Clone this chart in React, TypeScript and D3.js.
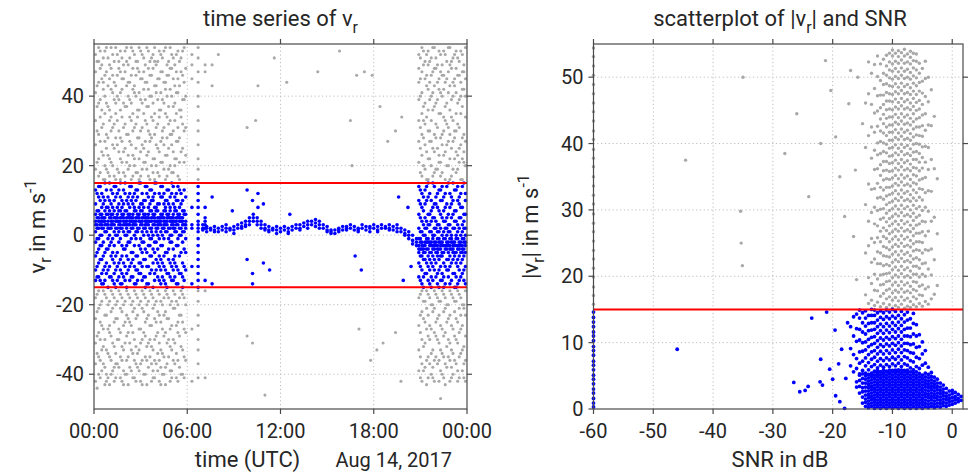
import React from "react";
import * as d3 from "d3";

const FONT = "Roboto, 'Noto Sans', Arial, sans-serif";
const TEXT = "#262626";
const AXIS = "#4a4a4a";
const GRID = "#bdbdbd";
const GRAY = "#a8a8a8";
const BLUE = "#0000ff";
const RED = "#ff0000";

const vThreshold = 15;

const tsXTicks = [0, 6, 12, 18, 24];
const tsXTickLabels = ["00:00", "06:00", "12:00", "18:00", "00:00"];
const tsYTicks = [-40, -20, 0, 20, 40];
const scXTicks = [-60, -50, -40, -30, -20, -10, 0];
const scYTicks = [0, 10, 20, 30, 40, 50];

// time series: "hour: v_r values (m/s)"
const tsEarly = [
  "0.1:52 47 41 33 26 19 -18 -24 -31 -37 -42 13 9 6 4 3 1 -2 -6 -10 -13",
  "0.2:50 43 37 30 21 -17 -22 -29 -34 -44 12 7 5 3 2 -1 -5 -9 -12",
  "0.3:54 50 44 38 29 22 17 -16 -21 -28 -35 -40 14 11 7 5 4 2 -1 -4 -8 -12",
  "0.4:53 48 39 34 27 18 -20 -25 -30 -36 -41 14 10 6 4 3 0 -3 -7 -13",
  "0.5:49 45 36 31 24 -19 -26 -33 -39 12 8 6 5 4 3 2 0 -3 -7 -11 -14",
  "0.6:51 44 42 32 23 16 -16 -27 -32 -37 11 9 5 4 2 -2 -6 -10 -14",
  "0.7:53 46 40 35 27 20 16 -17 -23 -30 -38 -43 15 10 7 5 4 3 1 -5 -9 -13",
  "0.8:54 47 38 29 25 19 -18 -23 -33 -40 -42 13 8 6 3 1 -4 -8 -11",
  "0.9:51 43 37 28 23 18 -20 -27 -34 -41 11 8 6 4 3 2 -1 -4 -10 -15",
  "1.0:49 45 36 33 22 17 -19 -26 -28 -35 -43 15 10 7 5 2 0 -3 -9 -12",
  "1.1:54 48 42 34 30 21 -16 -22 -29 -36 -40 13 9 6 5 4 3 2 -2 -6 -12",
  "1.2:52 46 41 31 26 20 -17 -21 -31 -39 12 8 6 4 3 -1 -5 -7 -13",
  "1.3:50 44 39 32 25 17 -18 -25 -32 -38 -42 14 10 7 5 3 1 -3 -8 -11 -14",
  "1.4:54 43 38 35 28 16 -20 -24 -34 -37 -41 14 11 5 4 2 0 -6 -10 -15",
  "1.5:52 46 40 33 26 19 -19 -24 -30 -37 12 8 6 5 4 2 0 -5 -9 -13",
  "1.6:50 48 39 30 24 18 -16 -27 -30 -38 13 9 7 4 3 1 -2 -8 -12",
  "1.7:53 47 41 36 28 22 16 -17 -21 -28 -35 -41 15 11 7 5 4 3 2 -1 -7 -10 -14",
  "1.8:51 45 42 34 27 21 -18 -22 -32 -36 -42 10 8 6 5 2 -3 -6 -11 -14",
  "1.9:49 45 38 31 24 18 -20 -26 -33 -39 -43 13 9 6 5 4 3 1 -4 -8 -12",
  "2.0:53 47 37 32 25 17 -19 -25 -31 -40 15 12 7 4 3 0 -4 -9 -13",
  "2.1:54 50 43 37 29 21 -16 -23 -29 -36 -40 10 7 5 4 3 2 0 -3 -6 -11 -15",
  "2.2:49 44 40 29 23 19 -17 -24 -28 -35 -43 11 9 6 5 3 1 -2 -7 -10",
  "2.3:51 44 39 34 27 20 -18 -25 -31 -38 14 12 8 6 5 4 3 1 -2 -9 -13",
  "2.4:54 46 38 33 26 16 -20 -26 -33 -39 14 10 5 4 2 -1 -5 -8 -12",
  "2.5:53 48 42 35 30 23 17 -19 -22 -28 -34 -41 11 9 6 5 4 3 2 -5 -7 -12",
  "2.6:52 43 41 31 22 20 -16 -21 -30 -36 -41 12 8 7 4 3 0 -3 -9 -14",
  "2.7:50 46 40 32 25 18 -17 -24 -32 -37 -42 13 10 7 5 4 3 1 -1 -6 -10 -14",
  "2.8:50 48 36 34 28 18 -18 -23 -34 -38 13 11 6 5 2 1 -6 -10 -13",
  "2.9:54 47 41 36 28 22 16 -20 -27 -33 -39 15 8 6 5 4 2 -3 -8 -11",
  "3.0:53 45 39 30 24 17 -19 -27 -31 -37 -42 15 9 7 4 3 -1 -4 -8 -11",
  "3.1:52 45 38 31 26 19 -16 -21 -30 -36 -43 12 9 7 5 4 3 1 -2 -5 -9 -13",
  "3.2:51 47 42 35 25 21 -17 -22 -28 -40 10 8 6 5 2 0 -2 -7 -12",
  "3.3:49 44 39 33 27 21 -18 -25 -29 -35 -40 14 10 6 5 4 3 2 -4 -7 -12 -15",
  "3.4:54 44 37 32 23 19 -20 -24 -32 -36 -43 14 12 5 4 3 1 -5 -9 -14",
  "3.5:53 48 42 37 30 24 17 -19 -23 -31 -38 11 8 6 5 4 3 0 -3 -9 -14",
  "3.6:50 46 40 29 27 16 -16 -26 -30 -35 13 9 7 4 2 -1 -3 -6 -11",
  "3.7:51 46 40 34 28 20 -17 -26 -32 -37 -42 13 10 7 5 4 2 1 -1 -6 -10",
  "3.8:52 48 38 33 22 18 -18 -21 -33 -39 -41 11 10 6 5 3 0 -4 -8 -15",
  "3.9:54 50 43 35 29 22 16 -20 -24 -30 -36 -41 15 12 8 6 5 4 3 -2 -5 -11 -13",
  "4.0:49 43 41 31 26 20 -19 -25 -29 -37 15 8 7 4 2 1 -2 -7 -10",
  "4.1:50 45 39 32 25 18 -16 -22 -28 -34 -39 9 7 5 4 3 2 0 -4 -8 -12",
  "4.2:53 45 36 34 24 17 -17 -23 -31 -36 -42 12 9 5 4 3 -1 -6 -9 -13",
  "4.3:52 47 41 36 27 21 -19 -25 -33 -38 -43 14 11 6 5 4 3 1 -3 -7 -10 -14",
  "4.4:51 47 39 30 28 21 -20 -27 -34 -40 14 11 6 5 2 0 -3 -8 -12",
  "4.5:53 44 38 31 26 19 -18 -23 -29 -35 -40 12 9 7 5 4 3 2 -1 -6 -9 -13",
  "4.6:54 44 42 35 23 16 -16 -22 -28 -38 -43 10 8 7 4 3 1 -5 -10 -14",
  "4.7:49 46 40 34 28 23 17 -17 -24 -31 -37 13 10 6 5 4 3 1 -5 -11 -15",
  "4.8:50 46 37 32 25 19 -18 -24 -30 -35 13 9 6 5 2 -1 -4 -7 -11",
  "4.9:54 48 42 33 29 20 -20 -27 -32 -39 -42 11 8 7 5 4 2 0 -2 -8 -12",
  "5.0:52 48 40 29 26 18 -19 -26 -33 -39 -41 15 12 5 4 3 0 -2 -9 -13",
  "5.1:51 45 37 30 24 18 -16 -21 -30 -36 14 9 6 5 4 3 2 -4 -7 -10 -13",
  "5.2:49 43 38 33 22 20 -17 -21 -31 -37 11 8 7 4 2 1 -6 -8 -12",
  "5.3:52 47 41 35 27 22 -19 -26 -34 -41 12 10 7 5 4 3 1 -3 -9 -14",
  "5.4:53 45 41 31 27 17 -20 -25 -28 -36 -42 14 10 6 5 3 -1 -3 -10 -14",
  "5.5:50 43 36 28 21 16 -18 -23 -29 -38 13 8 6 5 4 2 0 -6 -11",
  "5.6:51 47 36 34 24 -16 -23 -32 -40 12 9 5 4 2 0 -5 -11",
  "5.7:53 46 39 32 25 -17 -25 -33 -40 10 7 5 4 3 1 -2 -8 -12 -15",
  "5.8:54 44 39 30 21 -18 -27 -35 -41 13 7 6 3 1 -4 -9 -13",
  "5.9:48 40 31 23 -20 -28 -36 11 6 4 3 2 -1 -5 -10",
  "6.3:52 49 45 -27 -42 8 3 2 -9 -14",
  "6.7:54 51 47 44 40 37 33 30 26 22 19 16 -16 -19 -23 -26 -30 -33 -37 -41 14 12 10 8 6 4 3 2 1 -1 -3 -5 -7 -9 -11 -13 -15",
  "7.15:49 47 -16 -41 8 5 4 3 2 -13",
];

const tsTrace = [
  "7.0:3 2 1.5", "7.25:2.5 2 1", "7.5:2 1.5", "7.75:2.5 1.5 1", "8.0:2 1",
  "8.25:2.5 1.5", "8.5:3 2 1", "8.75:2 1.5", "9.0:2.5 1.5 0.5", "9.25:3 2",
  "9.5:3.5 2.5 2", "9.75:4 3 2.5", "10.0:5 4 3", "10.25:6 5 4", "10.5:5 4 3",
  "10.75:4 3 2", "11.0:3 2 1.5", "11.25:2.5 1.5 1", "11.5:2 1.5", "11.75:2.5 1.5 0.5",
  "12.0:2 1", "12.25:2.5 1.5", "12.5:2 1 0.5", "12.75:2.5 1.5", "13.0:3 2",
  "13.25:3 2 1.5", "13.5:3.5 2.5", "13.75:4 3 2", "14.0:4 3", "14.25:4.5 3.5 2.5",
  "14.5:4 3 2", "14.75:3 2", "15.0:2.5 1.5 1", "15.25:1.5 1 0.5", "15.5:1.5 0.5",
  "15.75:2 1.5 1", "16.0:2.5 1.5", "16.25:2.5 2 1.5", "16.5:3 2", "16.75:2.5 1.5",
  "17.0:2 1.5 1", "17.25:3 2", "17.5:2.5 1.5", "17.75:2.5 2 1", "18.0:3 2",
  "18.25:2.5 1.5 1", "18.5:3 2", "18.75:2.5 2", "19.0:3 2 1.5", "19.25:2.5 1.5",
  "19.5:3 2 1", "19.75:2 1", "20.0:1.5 0.5 0", "20.25:1 0 -1", "20.5:0 -1.5 -2.5",
  "20.75:-1 -2 -3",
];

const tsSparse = [
  "7.6:11 -14 49 43", "8.0:52", "8.9:7", "9.85:13 -7 31 -29", "10.2:10 -11 -14 -31",
  "10.4:33", "10.55:12 8 43", "10.9:9 -8", "11.0:-46", "11.3:-10", "11.6:51",
  "12.4:44", "12.6:6", "14.4:47", "15.8:53", "16.5:33", "16.6:20", "16.8:-6",
  "16.9:46", "17.05:-27", "17.2:-10", "17.4:47", "17.8:-36", "17.9:46", "18.2:-33",
  "18.4:37", "18.6:-31", "18.9:27", "19.4:30 -28", "19.6:11", "19.75:-42",
  "19.8:34", "19.9:-13", "20.2:8", "20.4:-9",
];

const tsLate = [
  "20.9:52 48 44 39 33 27 21 -18 -26 -33 -39 14 10 6 2 -1 -3 -4 -5 -8 -12",
  "21.0:51 45 40 31 25 18 -17 -23 -28 -35 -41 13 9 5 1 -1 -2 -4 -6 -9 -13",
  "21.1:54 47 41 35 29 23 17 -16 -22 -30 -37 -42 12 8 4 1 -2 -3 -4 -6 -10 -14",
  "21.2:53 49 37 33 28 20 -19 -24 -32 -39 11 7 3 0 -3 -4 -5 -7 -12 -15",
  "21.3:50 45 38 32 26 19 -19 -25 -31 -38 13 9 5 2 0 -2 -3 -5 -7 -11",
  "21.4:52 46 43 34 24 16 -16 -21 -27 -36 -43 14 10 4 2 -1 -2 -4 -8 -11",
  "21.5:53 49 42 36 30 22 16 -17 -23 -29 -35 -41 15 11 6 3 -1 -2 -4 -6 -9 -13",
  "21.6:50 44 39 30 27 22 -18 -26 -30 -37 12 6 3 1 -2 -3 -5 -7 -10 -14",
  "21.7:51 46 40 33 27 20 -20 -27 -34 -40 10 7 4 1 -2 -3 -5 -8 -12 -15",
  "21.8:54 47 41 36 25 17 -20 -22 -33 -38 -41 15 8 5 0 -1 -3 -4 -6 -9 -13",
  "21.9:54 48 43 37 29 24 18 -16 -21 -28 -36 -42 14 9 5 2 0 -2 -3 -4 -7 -10",
  "22.0:51 48 38 32 28 19 -17 -25 -29 -35 11 9 4 2 -2 -3 -5 -8 -12",
  "22.1:49 44 39 31 25 19 -18 -24 -30 -37 12 8 3 1 -1 -3 -4 -5 -6 -11 -14",
  "22.2:53 45 42 35 23 21 -19 -23 -31 -36 -42 13 7 3 1 -1 -2 -4 -7 -10 -15",
  "22.3:52 47 41 35 28 21 17 -19 -26 -33 -39 -47 13 10 6 2 -2 -3 -4 -6 -9 -13",
  "22.4:49 46 40 29 26 18 -16 -27 -34 -40 14 10 5 0 -2 -3 -5 -6 -11 -13",
  "22.5:53 46 42 34 30 23 -17 -22 -29 -35 -41 11 7 4 1 -1 -3 -5 -8 -12 -15",
  "22.6:52 44 37 33 24 16 -18 -21 -28 -37 -43 12 8 4 2 -1 -3 -4 -9 -14",
  "22.7:50 45 38 32 26 20 -20 -25 -32 -38 14 9 5 2 0 -2 -3 -4 -7 -10",
  "22.8:54 47 41 31 27 20 -20 -24 -30 -35 15 6 3 1 -2 -3 -5 -7 -10 -12",
  "22.9:54 49 43 36 29 22 16 -16 -23 -31 -36 -42 12 8 3 1 -1 -3 -4 -6 -9 -14",
  "23.0:50 48 39 34 25 17 -17 -26 -33 -38 -41 11 9 5 0 -1 -2 -4 -8 -13",
  "23.1:51 44 40 33 27 19 -18 -27 -34 -40 15 10 6 2 -2 -3 -4 -5 -7 -11",
  "23.2:52 45 43 30 28 22 -19 -22 -29 -36 13 7 4 2 -2 -3 -5 -6 -11 -15",
  "23.3:53 48 41 35 30 24 18 -19 -24 -30 -37 13 7 4 0 -1 -3 -5 -8 -12 -15",
  "23.4:51 46 38 32 23 19 -16 -25 -31 -39 -42 14 10 3 1 -1 -3 -4 -7 -9 -14",
  "23.5:50 46 39 31 25 21 -17 -21 -28 -35 -41 11 9 5 2 -2 -3 -4 -6 -10 -13",
  "23.6:53 44 40 35 26 16 -18 -23 -27 -34 12 8 5 0 -2 -3 -5 -8 -12",
  "23.7:52 47 42 37 28 22 16 -20 -26 -33 -39 14 8 3 1 -1 -3 -4 -5 -7 -11",
  "23.8:49 47 42 29 24 21 -20 -21 -32 -37 -41 15 6 4 2 -1 -2 -4 -6 -10 -13",
  "23.9:54 45 40 34 27 20 -16 -23 -29 -36 -42 12 10 6 2 0 -2 -3 -5 -9 -14",
];

// scatter: "SNR (dB): |v_r| values (m/s)"
const scFloor = [
  "-60:0.3 0.9 1.6 2.4 3 3.8 4.5 5.1 5.9 6.6 7.2 8.1 8.8 9.4 10.3 11 11.6 12.4 13.1 13.8 14.6 15.8 17.1 18.4 19.9 21.2 22.6 23.9 25.3 26.7 28 29.4 30.9 32.2 33.6 35 36.5 37.8 39.1 40.6 41.9 43.4 44.8 46.1 47.5 48.9 50.3 51.7 53.1 54.4",
];

const scSparse = [
  "-46:9", "-44.6:37.5", "-35:50", "-35.4:29.8", "-35.3:25", "-35.1:21.6",
  "-28:38.5", "-26:44.5", "-24:32", "-22:40", "-21.2:52.5", "-20.3:48", "-19.5:41",
  "-18.8:35", "-18:29", "-17.3:46", "-17:51", "-16.5:26", "-16.2:36", "-16:19.5",
  "-15.8:50", "-15:43", "-26.5:4", "-25.5:2.6", "-24.6:2.8", "-24.1:3.4", "-22.1:4.1",
  "-21.7:3.6", "-20:4.5", "-19.5:2", "-18.8:1.1", "-18:0.1", "-23.5:13.7", "-21:14.6",
  "-19.6:11.9", "-20.5:6", "-22:7.5", "-17.5:13", "-18.5:9", "-19:6.8", "-17.8:4.6",
];

const scGrayCloud = [
  "-14.5:17.2 23.5 30.8 39.4 46.1",
  "-14:15.9 19.8 24.6 28.3 33.9 41.2 47.5 52.3",
  "-13.5:16.4 18.9 22.1 25.7 29.6 33.1 37.8 42.5 45.9 50.6",
  "-13:15.6 17.9 20.3 22.6 25.1 27.9 30.4 33.2 36.1 39 41.7 44.6 48.3 51.9",
  "-12.5:16.1 17.8 19.6 21.9 23.7 25.8 27.6 29.9 31.8 34 36.2 38.3 40.1 42.6 44.9 47.2 50.1 53.2",
  "-12:15.4 17 18.7 20.2 21.9 23.5 25.2 26.8 28.6 30.1 31.9 33.4 35.2 36.8 38.5 40.3 41.9 43.7 45.4 47.3 49.5 52",
  "-11.5:15.9 17.4 18.8 20.3 21.6 23.1 24.5 26 27.3 28.8 30.2 31.6 33 34.5 35.9 37.3 38.8 40.1 41.6 43 44.4 45.9 47.3 48.9 50.6 52.7",
  "-11:15.3 16.6 17.9 19.2 20.4 21.8 23 24.3 25.7 26.9 28.2 29.5 30.8 32.1 33.4 34.7 36 37.3 38.6 39.9 41.2 42.5 43.8 45.1 46.4 47.7 49 50.3 51.7 53.3",
  "-10.5:15.7 16.9 18.1 19.3 20.5 21.6 22.9 24 25.2 26.4 27.6 28.7 29.9 31.1 32.3 33.4 34.6 35.8 37 38.1 39.3 40.5 41.7 42.8 44 45.2 46.4 47.5 48.7 49.9 51.1 52.3 53.6",
  "-10:15.2 16.4 17.5 18.7 19.8 21 22.1 23.3 24.4 25.6 26.7 27.9 29 30.2 31.3 32.5 33.6 34.8 35.9 37.1 38.2 39.4 40.5 41.7 42.8 44 45.1 46.3 47.4 48.6 49.7 50.9 52 53.2 54.1",
  "-9.5:15.6 16.8 17.9 19.1 20.2 21.4 22.5 23.7 24.8 26 27.1 28.3 29.4 30.6 31.7 32.9 34 35.2 36.3 37.5 38.6 39.8 40.9 42.1 43.2 44.4 45.5 46.7 47.8 49 50.1 51.3 52.4 53.6",
  "-9:15.3 16.3 17.6 18.6 19.9 20.9 22.2 23.2 24.5 25.5 26.8 27.8 29.1 30.1 31.4 32.4 33.7 34.7 36 37 38.3 39.3 40.6 41.6 42.9 43.9 45.2 46.2 47.5 48.5 49.8 50.8 52.1 53.1 54",
  "-8.5:15.8 16.9 18.1 19.2 20.4 21.5 22.7 23.8 25 26.1 27.3 28.4 29.6 30.7 31.9 33 34.2 35.3 36.5 37.6 38.8 39.9 41.1 42.2 43.4 44.5 45.7 46.8 48 49.1 50.3 51.4 52.6 53.7",
  "-8:15.2 16.4 17.6 18.7 19.9 21 22.2 23.3 24.5 25.6 26.8 27.9 29.1 30.2 31.4 32.5 33.7 34.8 36 37.1 38.3 39.4 40.6 41.7 42.9 44 45.2 46.3 47.5 48.6 49.8 50.9 52.1 53.2 54.2",
  "-7.5:15.5 16.7 17.8 19 20.1 21.3 22.4 23.6 24.7 25.9 27 28.2 29.3 30.5 31.6 32.8 33.9 35.1 36.2 37.4 38.5 39.7 40.8 42 43.1 44.3 45.4 46.6 47.7 48.9 50 51.2 52.3 53.5",
  "-7:15.3 16.2 17.5 18.5 19.8 20.8 22.1 23.1 24.4 25.4 26.7 27.7 29 30 31.3 32.3 33.6 34.6 35.9 36.9 38.2 39.2 40.5 41.5 42.8 43.8 45.1 46.1 47.4 48.4 49.7 50.7 52 53 53.9",
  "-6.5:15.7 16.9 18 19.2 20.3 21.5 22.6 23.8 24.9 26.1 27.2 28.4 29.5 30.7 31.8 33 34.1 35.3 36.4 37.6 38.7 39.9 41 42.2 43.3 44.5 45.6 46.8 47.9 49.1 50.2 51.4 52.5 53.6",
  "-6:15.4 16.6 17.8 19.1 20.3 21.5 22.8 24 25.2 26.5 27.7 28.9 30.2 31.4 32.6 33.9 35.1 36.3 37.6 38.8 40 41.3 42.5 43.7 45 46.2 47.4 48.7 49.9 51.1 52.4 53.5",
  "-5.5:15.9 17.2 18.5 19.9 21.2 22.5 23.9 25.2 26.5 27.9 29.2 30.5 31.9 33.2 34.5 35.9 37.2 38.5 39.9 41.2 42.5 43.9 45.2 46.5 47.9 49.2 50.6 52.1",
  "-5:15.5 17.1 18.7 20.3 21.9 23.5 25.1 26.7 28.3 29.9 31.5 33.1 34.7 36.3 37.9 39.5 41.1 42.7 44.3 45.9 47.6 49.4 51.3",
  "-4.5:16.2 18.1 20 22 24 26.1 28.2 30.4 32.6 34.9 37.2 39.6 42 44.5 47.1 49.8 52.4",
  "-4:15.8 18.4 21.1 23.9 26.8 29.8 32.9 36.1 39.4 42.8 46.3 50",
  "-3.5:16.6 20.2 24.1 28.3 32.8 37.6 42.7 48.1",
  "-3:17.3 22.5 28.9 36.2 44.1",
  "-2.5:18.6 26.4 34.7",
];

const scBlueCloud = [
  "-17:6.5 9.1 12.4", "-16.5:5.6 8.2 11 13.9", "-16:6.1 7.6 10.2 12.1 14.3",
  "-15.5:5.3 6.9 8.6 10.4 12 13.7 14.9", "-15:5.8 7.2 8.7 10 11.6 13 14.5",
  "-14.5:5.4 6.5 7.7 8.9 10.1 11.3 12.5 13.7 14.8",
  "-14:5.9 7 8.2 9.4 10.5 11.8 12.9 14.1",
  "-13.5:5.3 6.4 7.5 8.6 9.7 10.8 11.9 13 14.1 15",
  "-13:5.7 6.7 7.8 8.8 9.9 10.9 12 13 14.1 14.9",
  "-12.5:5.2 6.2 7.2 8.3 9.3 10.3 11.4 12.4 13.4 14.5",
  "-12:5.6 6.6 7.6 8.7 9.7 10.7 11.8 12.8 13.8 14.8",
  "-11.5:5.3 6.3 7.3 8.3 9.4 10.4 11.4 12.4 13.5 14.5",
  "-11:5.7 6.7 7.7 8.8 9.8 10.8 11.9 12.9 13.9 14.9",
  "-10.5:5.4 6.4 7.4 8.4 9.5 10.5 11.5 12.5 13.6 14.6",
  "-10:5.8 6.8 7.8 8.9 9.9 10.9 12 13 14 15",
  "-9.5:5.5 6.5 7.5 8.5 9.6 10.6 11.6 12.6 13.7 14.7",
  "-9:5.9 6.9 7.9 9 10 11 12.1 13.1 14.1",
  "-8.5:5.4 6.4 7.4 8.5 9.5 10.5 11.6 12.6 13.6 14.7",
  "-8:5.8 6.8 7.9 8.9 9.9 11 12 13.1 14.2",
  "-7.5:5.5 6.6 7.7 8.8 9.9 11 12.2 13.4 14.6",
  "-7:6.2 7.3 8.5 9.7 10.9 12.2 13.6", "-6.5:5.9 7.1 8.4 9.8 11.3 12.9 14.4",
  "-6:6.4 7.8 9.3 11 12.7", "-5.5:6.1 7.6 9.4 11.2", "-5:6.6 8.3 10.1",
  "-4.5:6.9 8.8", "-4:6.3",
];

const scBlob = [
  "-16:3.3 4.1", "-15.5:2.4 3.4 4.3 5.1", "-15:0.9 1.8 2.6 3.2 3.9 4.6 5.3",
  "-14.5:0.4 1 1.5 2.1 2.7 3.3 3.9 4.5 5",
  "-14:0.2 0.7 1.2 1.7 2.2 2.7 3.2 3.7 4.2 4.7 5.2",
  "-13.5:0.4 0.9 1.4 1.9 2.4 2.9 3.4 3.9 4.4 4.9 5.4",
  "-13:0.1 0.6 1.1 1.6 2.1 2.6 3.1 3.6 4.1 4.6 5.1 5.6",
  "-12.5:0.35 0.85 1.35 1.85 2.35 2.85 3.35 3.85 4.35 4.85 5.35 5.8",
  "-12:0.1 0.6 1.1 1.6 2.1 2.6 3.1 3.6 4.1 4.6 5.1 5.6",
  "-11.5:0.35 0.85 1.35 1.85 2.35 2.85 3.35 3.85 4.35 4.85 5.35 5.85",
  "-11:0.1 0.6 1.1 1.6 2.1 2.6 3.1 3.6 4.1 4.6 5.1 5.6",
  "-10.5:0.35 0.85 1.35 1.85 2.35 2.85 3.35 3.85 4.35 4.85 5.35 5.85",
  "-10:0.1 0.6 1.1 1.6 2.1 2.6 3.1 3.6 4.1 4.6 5.1 5.6",
  "-9.5:0.35 0.85 1.35 1.85 2.35 2.85 3.35 3.85 4.35 4.85 5.35 5.85",
  "-9:0.1 0.6 1.1 1.6 2.1 2.6 3.1 3.6 4.1 4.6 5.1 5.6",
  "-8.5:0.35 0.85 1.35 1.85 2.35 2.85 3.35 3.85 4.35 4.85 5.35 5.85",
  "-8:0.1 0.6 1.1 1.6 2.1 2.6 3.1 3.6 4.1 4.6 5.1 5.6",
  "-7.5:0.35 0.85 1.35 1.85 2.35 2.85 3.35 3.85 4.35 4.85 5.35 5.85",
  "-7:0.1 0.6 1.1 1.6 2.1 2.6 3.1 3.6 4.1 4.6 5.1 5.6",
  "-6.5:0.35 0.85 1.35 1.85 2.35 2.85 3.35 3.85 4.35 4.85 5.35 5.85",
  "-6:0.1 0.6 1.1 1.6 2.1 2.6 3.1 3.6 4.1 4.6 5.1 5.6",
  "-5.5:0.35 0.85 1.35 1.85 2.35 2.85 3.35 3.85 4.35 4.85 5.35",
  "-5:0.1 0.6 1.1 1.6 2.1 2.6 3.1 3.6 4.1 4.6 5.1",
  "-4.5:0.35 0.85 1.35 1.85 2.35 2.85 3.35 3.85 4.35 4.85 5.4",
  "-4:0.2 0.7 1.2 1.7 2.2 2.7 3.2 3.7 4.2 4.7 5.2",
  "-3.5:0.4 0.9 1.4 1.9 2.4 2.9 3.4 3.9 4.4 4.9 5.5",
  "-3:0.2 0.7 1.2 1.7 2.2 2.7 3.2 3.7 4.2 4.8",
  "-2.5:0.4 0.9 1.4 1.9 2.4 2.9 3.4 3.9 4.5",
  "-2:0.3 0.8 1.3 1.8 2.3 2.8 3.3 3.9", "-1.5:0.5 1 1.5 2 2.5 3 3.6",
  "-1:0.4 0.9 1.4 1.9 2.4 3.1", "-0.5:0.6 1.1 1.6 2.1 2.7", "0:0.7 1.2 1.7 2.3 2.8",
  "0.5:0.9 1.4 1.9 2.5", "1:1.1 1.6 2.2", "1.5:1.3 1.9",
];

type P = { x: number; y: number };
function parseCols(cols: string[]): P[] {
  return cols.flatMap((s) => {
    const [a, b] = s.split(":");
    const x = +a;
    return b.trim().split(/\s+/).map((v) => ({ x, y: +v }));
  });
}

const tsPoints = parseCols([...tsEarly, ...tsTrace, ...tsSparse, ...tsLate]);
const scPoints = parseCols([...scFloor, ...scSparse, ...scGrayCloud, ...scBlueCloud, ...scBlob]);

type Scale = d3.ScaleLinear<number, number>;

function Grid({ x, y, xt, yt }: { x: Scale; y: Scale; xt: number[]; yt: number[] }) {
  const [x0, x1] = x.range();
  const [y0, y1] = y.range();
  return (
    <g stroke={GRID} strokeWidth={1} strokeDasharray="1.2,2.6">
      {xt.map((t, i) => (
        <line key={"gx" + i} x1={x(t)} x2={x(t)} y1={y0} y2={y1} />
      ))}
      {yt.map((t, i) => (
        <line key={"gy" + i} x1={x0} x2={x1} y1={y(t)} y2={y(t)} />
      ))}
    </g>
  );
}

function Frame({ x, y, xt, yt, xl, yl }: { x: Scale; y: Scale; xt: number[]; yt: number[]; xl: string[]; yl: string[] }) {
  const [x0, x1] = x.range();
  const [y0, y1] = y.range();
  const tl = 5;
  return (
    <g>
      <g stroke={AXIS} strokeWidth={1.2} fill="none">
        <rect x={x0} y={y1} width={x1 - x0} height={y0 - y1} />
        {xt.map((t, i) => (
          <g key={"tx" + i}>
            <line x1={x(t)} x2={x(t)} y1={y0} y2={y0 + tl} />
            <line x1={x(t)} x2={x(t)} y1={y1} y2={y1 - tl} />
          </g>
        ))}
        {yt.map((t, i) => (
          <g key={"ty" + i}>
            <line x1={x0 - tl} x2={x0} y1={y(t)} y2={y(t)} />
            <line x1={x1} x2={x1 + tl} y1={y(t)} y2={y(t)} />
          </g>
        ))}
      </g>
      <g fill={TEXT} fontSize={20} fontFamily={FONT}>
        {xt.map((t, i) => (
          <text key={"lx" + i} x={x(t)} y={438} textAnchor="middle">
            {xl[i]}
          </text>
        ))}
        {yt.map((t, i) => (
          <text key={"ly" + i} x={x0 - 10} y={y(t) + 7} textAnchor="end">
            {yl[i]}
          </text>
        ))}
      </g>
    </g>
  );
}

export default function App() {
  const tsX = d3.scaleLinear().domain([0, 24]).range([94, 467]);
  const tsY = d3.scaleLinear().domain([-50, 55]).range([409, 44]);
  const scX = d3.scaleLinear().domain([-60, 1.8]).range([593.5, 963]);
  const scY = d3.scaleLinear().domain([0, 55]).range([409, 44]);

  const tsGray = tsPoints.filter((p) => Math.abs(p.y) > vThreshold);
  const tsBlue = tsPoints.filter((p) => Math.abs(p.y) <= vThreshold);
  const scGray = scPoints.filter((p) => p.y > vThreshold);
  const scBlue = scPoints.filter((p) => p.y <= vThreshold);

  return (
    <svg
      width={971}
      height={475}
      style={{ position: "absolute", left: 0, top: 0, background: "#fff" }}
      fontFamily={FONT}
    >
      <rect x={0} y={0} width={971} height={475} fill="#fff" />
      {/* Left panel */}
      <Grid x={tsX} y={tsY} xt={tsXTicks.slice(1, -1)} yt={tsYTicks} />
      <g fill={GRAY}>
        {tsGray.map((p, i) => (
          <circle key={i} cx={tsX(p.x)} cy={tsY(p.y)} r={1.55} />
        ))}
      </g>
      <g fill={BLUE}>
        {tsBlue.map((p, i) => (
          <circle key={i} cx={tsX(p.x)} cy={tsY(p.y)} r={1.8} />
        ))}
      </g>
      {[vThreshold, -vThreshold].map((v) => (
        <line key={v} x1={tsX(0)} x2={tsX(24)} y1={tsY(v)} y2={tsY(v)} stroke={RED} strokeWidth={2} />
      ))}
      <Frame x={tsX} y={tsY} xt={tsXTicks} yt={tsYTicks} xl={tsXTickLabels} yl={tsYTicks.map(String)} />
      <text x={280.5} y={26} textAnchor="middle" fontSize={22} fill={TEXT}>
        time series of v<tspan dy={7} fontSize={16}>r</tspan>
      </text>
      <text x={247.5} y={467} textAnchor="middle" fontSize={22} fill={TEXT}>
        time (UTC)
      </text>
      <text x={452} y={467} textAnchor="end" fontSize={20} fill={TEXT}>
        Aug 14, 2017
      </text>
      <text transform="translate(45,226.5) rotate(-90)" textAnchor="middle" fontSize={22} fill={TEXT}>
        v<tspan dy={6} fontSize={16}>r</tspan>
        <tspan dy={-6}> in m s</tspan>
        <tspan dy={-9} fontSize={16}>-1</tspan>
      </text>

      {/* Right panel */}
      <Grid x={scX} y={scY} xt={scXTicks.slice(1)} yt={scYTicks.slice(1)} />
      <g fill={GRAY}>
        {scGray.map((p, i) => (
          <circle key={i} cx={scX(p.x)} cy={scY(p.y)} r={1.7} />
        ))}
      </g>
      <g fill={BLUE}>
        {scBlue.map((p, i) => (
          <circle key={i} cx={scX(p.x)} cy={scY(p.y)} r={1.9} />
        ))}
      </g>
      <line x1={scX(-60)} x2={scX(1.8)} y1={scY(vThreshold)} y2={scY(vThreshold)} stroke={RED} strokeWidth={2} />
      <Frame x={scX} y={scY} xt={scXTicks} yt={scYTicks} xl={scXTicks.map(String)} yl={scYTicks.map(String)} />
      <text x={780} y={26} textAnchor="middle" fontSize={22} fill={TEXT}>
        scatterplot of |v<tspan dy={7} fontSize={16}>r</tspan>
        <tspan dy={-7}>| and SNR</tspan>
      </text>
      <text x={780} y={467} textAnchor="middle" fontSize={22} fill={TEXT}>
        SNR in dB
      </text>
      <text transform="translate(538,226.5) rotate(-90)" textAnchor="middle" fontSize={22} fill={TEXT}>
        |v<tspan dy={6} fontSize={16}>r</tspan>
        <tspan dy={-6}>| in m s</tspan>
        <tspan dy={-9} fontSize={16}>-1</tspan>
      </text>
    </svg>
  );
}
